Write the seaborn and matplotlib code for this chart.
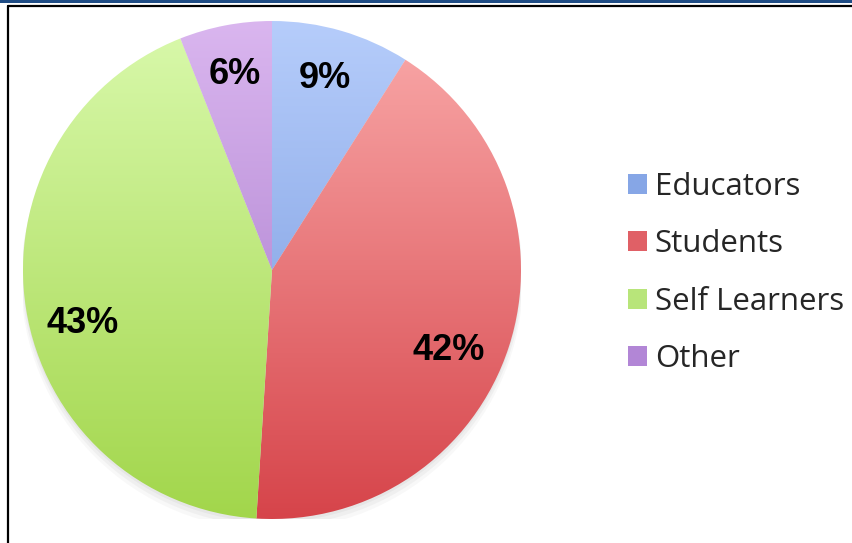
"""Audience pie chart: who uses the resource."""

import matplotlib.pyplot as plt
import numpy as np
import seaborn as sns
from matplotlib.colors import LinearSegmentedColormap
from matplotlib.lines import Line2D
from matplotlib.patches import Circle, Patch, Rectangle

groups = ["Educators", "Students", "Self Learners", "Other"]
shares = [9, 42, 43, 6]
# vertical gradient per slice: colour at top of pie, colour at bottom
top_colors = ["#B6CDFB", "#FAAAAA", "#D9F9AC", "#DAB6EF"]
bottom_colors = ["#6F92DA", "#D6444A", "#A2D64B", "#A172C6"]
legend_colors = ["#86A6E6", "#E06066", "#B8E57A", "#B286D6"]
# small nudges for the percentage labels (data units)
label_nudge = [(-0.01, 0.0), (-0.05, -0.075), (0.03, -0.09), (0.0, 0.0)]

sns.set_theme(style="white")
plt.rcParams["font.family"] = ["Open Sans", "DejaVu Sans"]

W, H = 852, 543
fig = plt.figure(figsize=(W / 100, H / 100), dpi=100)
fig.patch.set_facecolor("white")

# frame decorations (blue band + black border)
fig.add_artist(Rectangle((0, 1 - 3 / H), 1, 3 / H, transform=fig.transFigure,
                         color="#1F4C85", lw=0))
fig.add_artist(Line2D([8 / W, 1], [1 - 5.5 / H, 1 - 5.5 / H], transform=fig.transFigure,
                      color="black", lw=1.6))
fig.add_artist(Line2D([8 / W, 8 / W], [0, 1 - 5.5 / H], transform=fig.transFigure,
                      color="black", lw=1.6))

cx, cy, r = 272, H - 270, 249
ax = fig.add_axes([(cx - r) / W, (cy - r) / H, 2 * r / W, 2 * r / H])

# soft shadow under the pie
for k, a in enumerate([0.06, 0.05, 0.04]):
    ax.add_patch(Circle((0, -0.012 * (k + 1)), 1.0 + 0.004 * k, color="#555555",
                        alpha=a, lw=0, zorder=0))

wedges, texts, autotexts = ax.pie(
    shares,
    startangle=90,
    counterclock=False,
    autopct="%1.0f%%",
    pctdistance=0.8,
    wedgeprops=dict(linewidth=0),
    textprops=dict(fontsize=26, fontweight="bold", color="black",
                   family="Liberation Sans"),
)

grad = np.linspace(0, 1, 256).reshape(-1, 1)
for wedge, c_top, c_bot in zip(wedges, top_colors, bottom_colors):
    wedge.set_facecolor("none")
    cmap = LinearSegmentedColormap.from_list("g", [c_top, c_bot])
    im = ax.imshow(grad, cmap=cmap, extent=(-1, 1, -1, 1), origin="upper",
                   aspect="auto", zorder=1)
    im.set_clip_path(wedge)

for t, (dx, dy) in zip(autotexts, label_nudge):
    x, y = t.get_position()
    t.set_position((x + dx, y + dy))
    t.set_zorder(3)

ax.set_xlim(-1, 1)
ax.set_ylim(-1, 1)
ax.axis("off")

handles = [Patch(facecolor=c, edgecolor="none") for c in legend_colors]
fig.legend(handles, groups, loc="center left", bbox_to_anchor=(615 / W, 1 - 273 / H),
           frameon=False, fontsize=22.5, handlelength=0.62, handleheight=0.62,
           handletextpad=0.25, labelspacing=0.88, borderaxespad=0)

fig.savefig("out.png", dpi=100)
